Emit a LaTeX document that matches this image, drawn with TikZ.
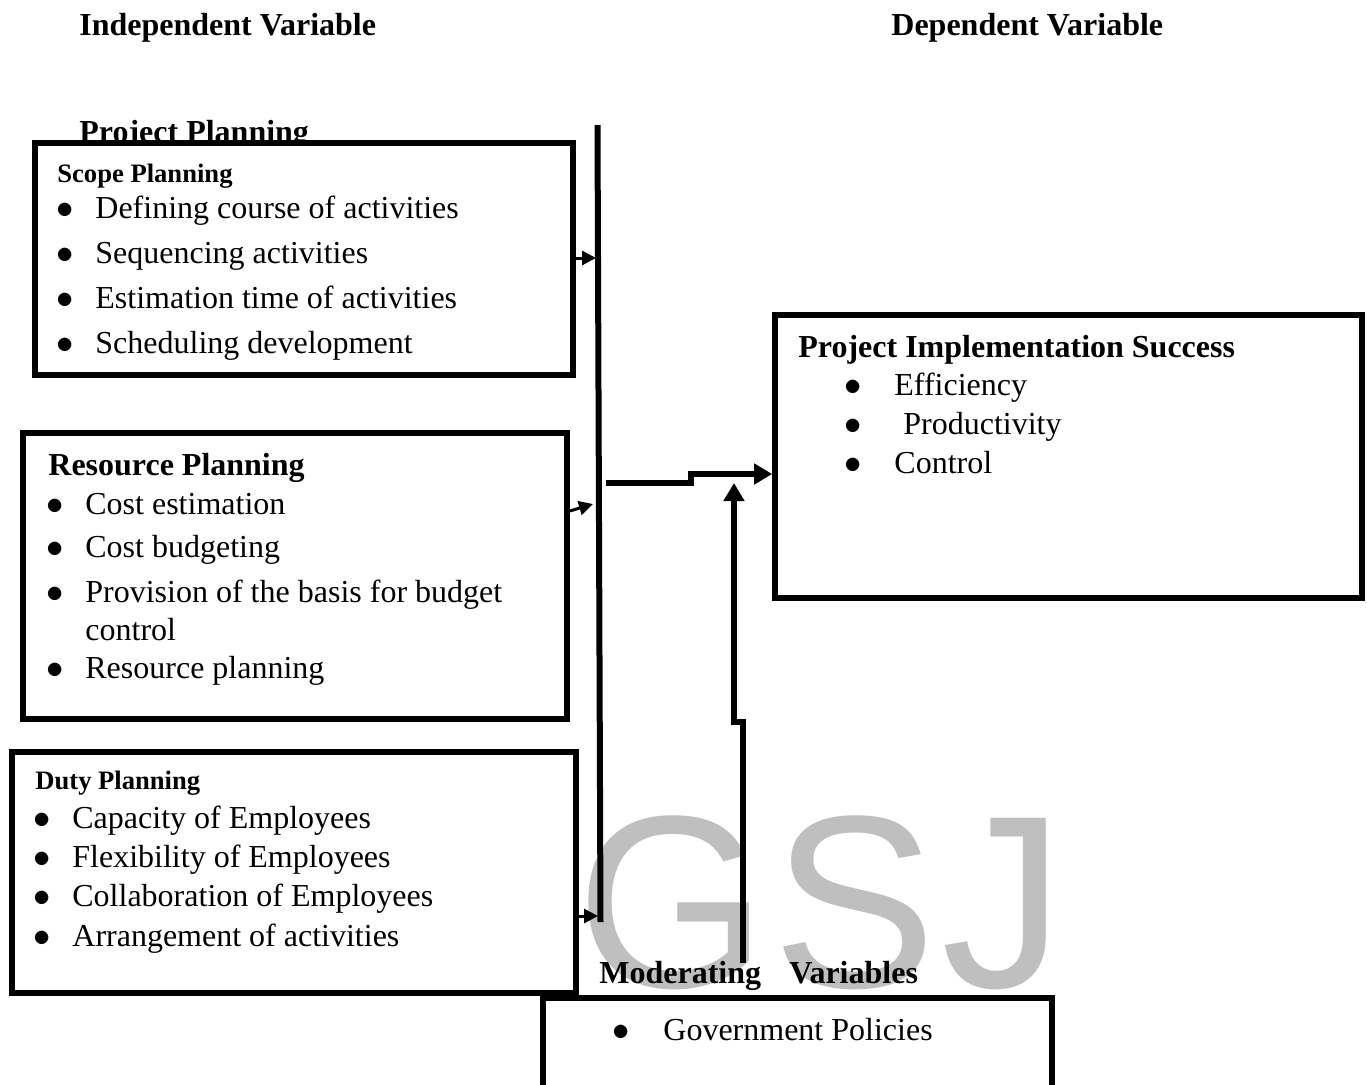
\documentclass[tikz,border=0pt]{standalone}
\usepackage{fontspec}
\setmainfont{Liberation Serif}
\newfontfamily\wmfont[LetterSpace=2]{Liberation Sans}
\usetikzlibrary{arrows.meta,calc,fit}

\begin{document}
\begin{tikzpicture}[
    x = 0.5pt, y = -0.5pt, % one unit = one pixel of the page
    box/.style = {draw, line width=2.8pt, fill=white, inner sep=0pt},
    title/.style = {anchor=base west, inner sep=0pt, font=\fontsize{16}{19}\selectfont\bfseries},
    subtitle/.style = {anchor=base west, inner sep=0pt, font=\fontsize{13.3}{16}\selectfont\bfseries},
    item/.style = {anchor=base west, inner sep=0pt, font=\fontsize{16}{19}\selectfont},
    dot/.style = {anchor=base, inner sep=0pt, font=\fontsize{17}{19}\selectfont},
    wm/.style = {anchor=base west, inner sep=0pt, text=black!25, font=\wmfont\fontsize{123}{123}\selectfont},
    bus/.style = {line width=3pt},
    feed/.style = {line width=1.5pt, -{Triangle[length=7pt,width=7pt]}},
    link/.style = {line width=3pt, -{Triangle[length=9pt,width=10pt]}}
    ]

    \useasboundingbox (0,0) rectangle (1367,1084);

    % watermark
    \node[wm] (gsj) at (576,987) {GSJ};

    % headings
    \node[title] (indep) at (79,35) {Independent Variable};
    \node[title] (dep) at (891,35) {Dependent Variable};
    \node[title] (planning) at (79,142) {Project Planning};

    % boxes
    \node[box, fit={(35,143) (573,375)}] (scope) {};
    \node[box, fit={(23,433) (567,719)}] (resource) {};
    \node[box, fit={(12,752) (576,993)}] (duty) {};
    \node[box, fit={(775,315) (1362,598)}] (success) {};
    \node[box, fit={(543,998) (1052,1090)}] (moderating) {};

    % scope planning
    \node[subtitle] (scopeT) at (57,182) {Scope Planning};
    \foreach \y/\t [count=\i] in {218/Defining course of activities,
        263/Sequencing activities, 308/Estimation time of activities,
        353/Scheduling development}{
        \node[dot] (scopeB\i) at (65,\y) {$\bullet$};
        \node[item] (scope\i) at (95,\y) {\t};
    }

    % resource planning
    \node[title] (resourceT) at (48,475) {Resource Planning};
    \foreach \y/\t [count=\i] in {514/Cost estimation, 557/Cost budgeting,
        602/Provision of the basis for budget, 678/Resource planning}{
        \node[dot] (resourceB\i) at (55,\y) {$\bullet$};
        \node[item] (resource\i) at (85,\y) {\t};
    }
    \node[item] (resource3b) at (85,640) {control};

    % duty planning
    \node[subtitle] (dutyT) at (35,789) {Duty Planning};
    \foreach \y/\t [count=\i] in {828/Capacity of Employees,
        867/Flexibility of Employees, 906/Collaboration of Employees,
        946/Arrangement of activities}{
        \node[dot] (dutyB\i) at (42,\y) {$\bullet$};
        \node[item] (duty\i) at (72,\y) {\t};
    }

    % dependent variable
    \node[title] (successT) at (798,357) {Project Implementation Success};
    \foreach \y/\x/\t [count=\i] in {395/894/Efficiency, 434/903/Productivity,
        473/894/Control}{
        \node[dot] (successB\i) at (853,\y) {$\bullet$};
        \node[item] (success\i) at (\x,\y) {\t};
    }

    % moderating variable
    \node[title] (moderatingT) at (599,983) {Moderating\hspace{0.88em}Variables};
    \node[dot] (moderatingB1) at (621,1040) {$\bullet$};
    \node[item] (moderating1) at (663,1040) {Government Policies};

    % connectors
    \coordinate (busTop) at (597.5,125);
    \coordinate (busBot) at (600.5,922);
    \coordinate (inScope) at (596,258);
    \coordinate (inResource) at (593,504);
    \coordinate (inDuty) at (598,916);
    \coordinate (busOut) at (606,483);
    \coordinate (step) at (691,474);
    \coordinate (upFoot) at (743,963);
    \coordinate (upKnee) at (734,722);

    \draw[bus] (busTop) -- (busBot);
    \draw[feed] (scope.east |- inScope) -- (inScope);
    \draw[feed] ($(resource.east |- inResource)+(0,7)$) -- (inResource);
    \draw[feed] (duty.east |- inDuty) -- (inDuty);
    \draw[link] (busOut) -| (step) -- (success.west |- step);
    \draw[link] (upFoot) |- (upKnee) -- (upKnee |- busOut);
\end{tikzpicture}
\end{document}
